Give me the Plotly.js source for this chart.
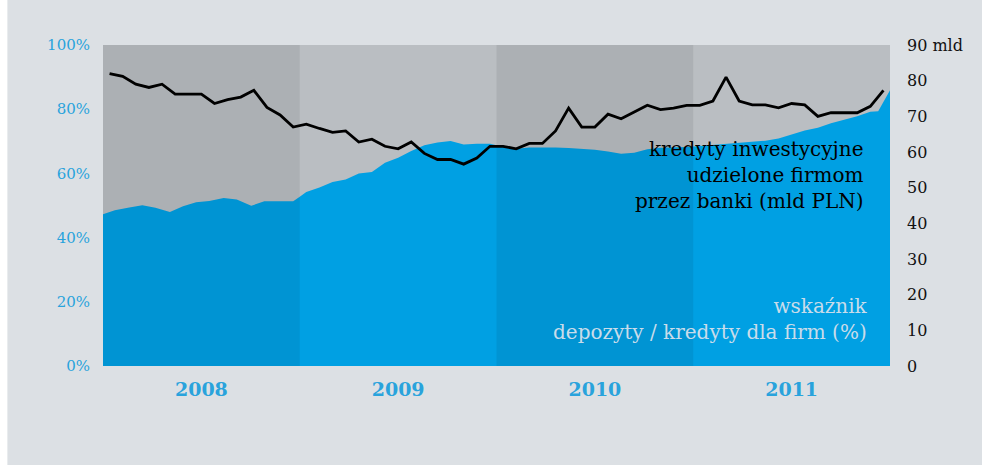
<!DOCTYPE html>
<html>
<head>
<meta charset="utf-8">
<script src="https://cdn.plot.ly/plotly-3.0.1.min.js"></script>
<style>
  html, body { margin: 0; padding: 0; background: #dce0e4; }
  #chart { width: 982px; height: 465px; }
</style>
</head>
<body>
<div id="chart"></div>
<script>
// ---- data ----
const yearLabels = ['2008', '2009', '2010', '2011'];
const yearCenters = [7, 22, 37, 52];
const yearBands = [[-0.5, 14.5], [14.5, 29.5], [29.5, 44.5], [44.5, 59.5]];

// month index of each point of the credit line
const lineX = [0,1,2,3,4,5,6,7,8,9,10,11,12,13,14,15,16,17,18,19,20,21,22,23,24,25,26,27,28,29,
               30,31,32,33,34,35,36,37,38,39,40,41,42,43,44,45,46,47,48,49,50,51,52,53,54,55,56,57,58,59];
// kredyty inwestycyjne udzielone firmom (mld PLN)
const kredyty = [82.0, 81.2, 79.0, 78.1, 79.0, 76.2, 76.2, 76.2, 73.6, 74.7, 75.4, 77.3, 72.5, 70.4, 67.0,
                 67.8, 66.6, 65.5, 65.9, 62.8, 63.6, 61.6, 60.9, 62.8, 59.6, 57.9, 57.9, 56.6, 58.3, 61.6,
                 61.6, 60.9, 62.4, 62.4, 65.9, 72.3, 67.0, 67.0, 70.6, 69.3, 71.2, 73.1, 71.9, 72.3, 73.1,
                 73.1, 74.3, 81.0, 74.3, 73.2, 73.2, 72.4, 73.6, 73.2, 70.0, 71.0, 71.0, 71.0, 72.8, 77.3];

// wskaźnik depozyty / kredyty dla firm (%)
const areaX = [-0.5, 0.4, 1.5, 2.5, 3.5, 4.6, 5.6, 6.6, 7.6, 8.7, 9.7, 10.8, 11.8, 13, 14, 14.5,
               15, 16, 17, 18, 19, 20, 21, 22, 23, 24, 25, 26, 27, 28, 29,
               30, 31, 32, 33, 34, 35, 36, 37, 38, 39, 40, 41, 42, 43, 44,
               45, 46, 47, 48, 49, 50, 51, 52, 53, 54, 55, 56, 57, 58, 58.6, 59.5];
const wskaznik = [47.3, 48.5, 49.4, 50.1, 49.3, 48.0, 49.8, 51.0, 51.4, 52.3, 51.9, 49.9, 51.3, 51.3, 51.3, 52.7,
                  54.2, 55.6, 57.3, 58.1, 60.0, 60.4, 63.3, 64.9, 67.0, 68.8, 69.6, 70.1, 69.0, 69.2, 69.2,
                  68.3, 67.7, 68.1, 68.2, 68.1, 67.9, 67.7, 67.4, 66.8, 66.1, 66.4, 67.5, 68.0, 68.0, 68.2,
                  68.5, 68.8, 69.1, 69.4, 69.7, 70.2, 70.9, 72.2, 73.4, 74.2, 75.6, 76.7, 77.8, 79.2, 79.4, 85.9];

const pctTicks = [0, 20, 40, 60, 80, 100];
const pctTickText = ['0%', '20%', '40%', '60%', '80%', '100%'];
const mldTicks = [0, 10, 20, 30, 40, 50, 60, 70, 80, 90];
const mldTickText = ['0', '10', '20', '30', '40', '50', '60', '70', '80', '90 mld'];

// ---- styling ----
const FONT = 'DejaVu Serif, Liberation Serif, serif';
const BLUE_TXT = '#29a3dc';

const traces = [
  {
    x: areaX, y: wskaznik, type: 'scatter', mode: 'lines',
    fill: 'tozeroy', fillcolor: '#00a0e3',
    line: { width: 0, color: '#00a0e3' },
    xaxis: 'x', yaxis: 'y', hoverinfo: 'skip'
  },
  {
    x: lineX, y: kredyty, type: 'scatter', mode: 'lines',
    line: { width: 2.8, color: '#000000' },
    xaxis: 'x', yaxis: 'y2', hoverinfo: 'skip'
  }
];

const shapes = [];
yearBands.forEach((b, i) => {
  if (i % 2 === 0) {
    shapes.push({
      type: 'rect', xref: 'x', yref: 'paper', x0: b[0], x1: b[1], y0: 0, y1: 1,
      fillcolor: 'rgba(0,0,0,0.07)', line: { width: 0 }, layer: 'above'
    });
  }
});
// white strip at far left of the picture
shapes.push({
  type: 'rect', xref: 'paper', yref: 'paper', x0: -0.2, x1: -0.1215, y0: -0.5, y1: 1.5,
  fillcolor: '#ffffff', line: { width: 0 }, layer: 'below'
});

const layout = {
  width: 982, height: 465,
  margin: { l: 103, r: 92, t: 45, b: 99, pad: 0 },
  paper_bgcolor: '#dce0e4',
  plot_bgcolor: '#babec2',
  showlegend: false,
  xaxis: {
    range: [-0.5, 59.5], showgrid: false, zeroline: false, showline: false,
    tickmode: 'array', tickvals: yearCenters, ticktext: yearLabels, ticks: '',
    ticklabelstandoff: 10,
    tickfont: { family: FONT, size: 19, color: BLUE_TXT, weight: 'bold' }
  },
  yaxis: {
    range: [0, 100], showgrid: false, zeroline: false, showline: false,
    tickmode: 'array', tickvals: pctTicks, ticktext: pctTickText, ticks: '',
    ticklabelstandoff: 12,
    tickfont: { family: FONT, size: 15, color: BLUE_TXT }
  },
  yaxis2: {
    range: [0, 90], overlaying: 'y', side: 'right',
    showgrid: false, zeroline: false, showline: false,
    tickmode: 'array', tickvals: mldTicks, ticktext: mldTickText, ticks: '',
    ticklabelstandoff: 16,
    tickfont: { family: FONT, size: 16, color: '#111111' }
  },
  shapes: shapes,
  annotations: [
    {
      xref: 'paper', yref: 'paper', x: 0.969, y: 0.594, xanchor: 'right', yanchor: 'middle',
      align: 'right', showarrow: false,
      text: 'kredyty inwestycyjne<br>udzielone firmom<br>przez banki (mld PLN)',
      font: { family: FONT, size: 20, color: '#000000' }
    },
    {
      xref: 'paper', yref: 'paper', x: 0.975, y: 0.146, xanchor: 'right', yanchor: 'middle',
      align: 'right', showarrow: false,
      text: 'wskaźnik<br>depozyty / kredyty dla firm (%)',
      font: { family: FONT, size: 20, color: '#c9dcea' }
    }
  ]
};

Plotly.newPlot('chart', traces, layout, { staticPlot: true, displayModeBar: false });
</script>
</body>
</html>
